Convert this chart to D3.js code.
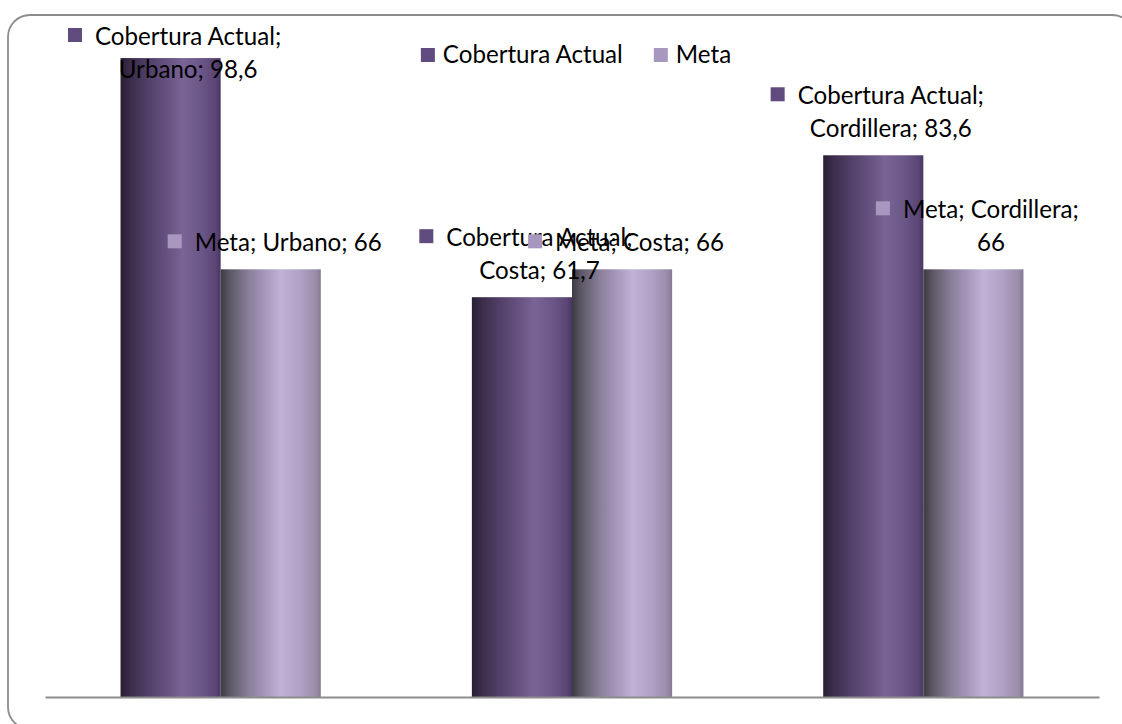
<!DOCTYPE html>
<html>
<head>
<meta charset="utf-8">
<script src="https://cdn.jsdelivr.net/npm/d3@7"></script>
<style>
  html, body { margin: 0; padding: 0; background: #ffffff; }
  svg { display: block; }
</style>
</head>
<body>
<svg id="chart" width="1122" height="724"></svg>
<script>
// ---- data ----
const categories = ["Urbano", "Costa", "Cordillera"];
const seriesNames = ["Cobertura Actual", "Meta"];
const coberturaActual = [98.6, 61.7, 83.6];
const meta = [66, 66, 66];
const seriesValues = [coberturaActual, meta];

// ---- layout ----
const W = 1122, H = 724;
const plot = { left: 45, right: 1099, top: 49, bottom: 697 };
const FONT = "Lato, 'Open Sans', 'Liberation Sans', sans-serif";

const svg = d3.select("#chart");

// gradients
const defs = svg.append("defs");
const gradStops = [
  [ [0, "#281e33"], [0.1, "#3b2d4b"], [0.28, "#524068"], [0.5, "#6a5585"], [0.62, "#7a6496"], [0.82, "#6a5587"], [0.95, "#5a4575"], [1, "#4a3763"] ],
  [ [0, "#3c3a42"], [0.1, "#5e5968"], [0.28, "#8a7f9a"], [0.45, "#a898bb"], [0.6, "#c0b1d6"], [0.8, "#b0a0c4"], [0.95, "#9a8ca9"], [1, "#847992"] ]
];
const keyColors = ["#5f4b7d", "#a898c0"];
gradStops.forEach((stops, i) => {
  const g = defs.append("linearGradient").attr("id", "g" + i)
    .attr("x1", "0%").attr("x2", "100%").attr("y1", "0%").attr("y2", "0%");
  stops.forEach(s => g.append("stop").attr("offset", s[0]).attr("stop-color", s[1]));
});

// frame
svg.append("rect")
  .attr("x", 8).attr("y", 15).attr("width", 1126).attr("height", 714)
  .attr("rx", 22).attr("ry", 22)
  .attr("fill", "none").attr("stroke", "#8c8c8c").attr("stroke-width", 1.8);

// font sizing: measure to reproduce the original text widths
const probe = svg.append("text").attr("font-family", FONT).attr("font-size", 100).text("Cobertura Actual");
const probeW = probe.node().getComputedTextLength();
probe.remove();
const FS = 100 * 180 / probeW;

function textWidth(s) {
  const t = svg.append("text").attr("font-family", FONT).attr("font-size", FS).text(s);
  const w = t.node().getComputedTextLength();
  t.remove();
  return w;
}

// scales
const x0 = d3.scaleBand().domain(categories).range([plot.left, plot.right]).paddingInner(0.43).paddingOuter(0.215);
const x1 = d3.scaleBand().domain(seriesNames).range([0, x0.bandwidth()]).padding(0);
const y = d3.scaleLinear().domain([0, 100]).range([plot.bottom, plot.top]);

// bars
const barData = [];
categories.forEach((c, ci) => {
  seriesNames.forEach((s, si) => {
    barData.push({ cat: c, ser: s, si: si, v: seriesValues[si][ci] });
  });
});

svg.append("g").selectAll("rect").data(barData).join("rect")
  .attr("x", d => x0(d.cat) + x1(d.ser))
  .attr("y", d => y(d.v))
  .attr("width", x1.bandwidth())
  .attr("height", d => y(0) - y(d.v))
  .attr("fill", d => "url(#g" + d.si + ")");

// axis baseline
const xAxis = d3.axisBottom(x0).tickSize(0).tickFormat("");
const axG = svg.append("g").attr("transform", `translate(0,${plot.bottom})`).call(xAxis);
axG.select(".domain").attr("stroke", "#8c8c8c").attr("stroke-width", 2);

// data labels
const fmt = v => d3.format(".1~f")(v).replace(".", ",");
const LH = 33, KEY = 14, KGAP = 13, MAXW = 200;

function wrap(str) {
  const words = str.split(" ");
  const lines = [];
  let cur = "";
  words.forEach(w => {
    const test = cur ? cur + " " + w : w;
    if (cur && textWidth(test) > MAXW) { lines.push(cur); cur = w; }
    else cur = test;
  });
  if (cur) lines.push(cur);
  return lines;
}

const labG = svg.append("g");
barData.forEach(d => {
  const lines = wrap(`${d.ser}; ${d.cat}; ${fmt(d.v)}`);
  const tw = d3.max(lines, textWidth);
  const blockW = KEY + KGAP + tw;
  const cx = x0(d.cat) + x1(d.ser) + x1.bandwidth() / 2 + 4;
  const left = cx - blockW / 2;
  let first = y(d.v) - 18 - (lines.length - 1) * LH;
  first = Math.max(first, 45);
  labG.append("rect")
    .attr("x", left).attr("y", first - 17)
    .attr("width", KEY).attr("height", KEY)
    .attr("fill", keyColors[d.si]);
  const t = labG.append("text")
    .attr("font-family", FONT).attr("font-size", FS).attr("fill", "#000")
    .attr("text-anchor", "middle");
  lines.forEach((ln, i) => {
    t.append("tspan").attr("x", left + KEY + KGAP + tw / 2).attr("y", first + i * LH).text(ln);
  });
});

// legend
const legG = svg.append("g");
const itemWidths = seriesNames.map(s => KEY + 8 + textWidth(s));
const legGap = 31;
const legTotal = d3.sum(itemWidths) + legGap * (seriesNames.length - 1);
let lx = 576 - legTotal / 2;
seriesNames.forEach((s, i) => {
  legG.append("rect").attr("x", lx).attr("y", 48).attr("width", KEY).attr("height", KEY).attr("fill", keyColors[i]);
  legG.append("text").attr("x", lx + KEY + 8).attr("y", 63)
    .attr("font-family", FONT).attr("font-size", FS).attr("fill", "#000").text(s);
  lx += itemWidths[i] + legGap;
});
</script>
</body>
</html>
